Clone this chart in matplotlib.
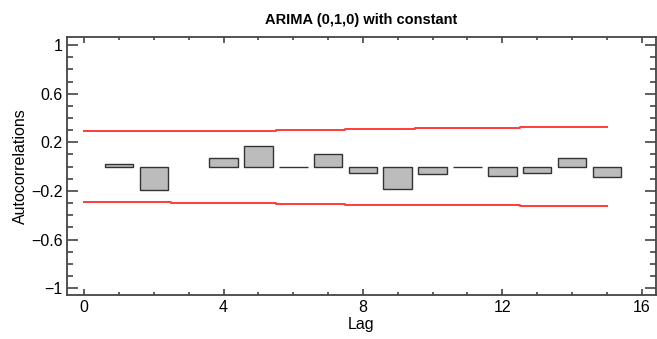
import matplotlib
matplotlib.use('Agg')
import matplotlib.pyplot as plt
import numpy as np
from matplotlib.ticker import MultipleLocator

plt.rcParams['font.family'] = ['Liberation Sans Narrow', 'Liberation Sans', 'DejaVu Sans']

# autocorrelations, lags 1..15
lags = np.arange(1, 16)
acf = [0.025, -0.19, 0.0, 0.071, 0.173, -0.006, 0.10, -0.052,
       -0.185, -0.06, -0.005, -0.077, -0.052, 0.068, -0.082]

# confidence limit, lags 0..15
band_lags = np.arange(0, 16)
band = [0.29, 0.29, 0.29, 0.297, 0.297, 0.297, 0.305, 0.305,
        0.312, 0.312, 0.32, 0.32, 0.32, 0.327, 0.327, 0.327]

fig = plt.figure(figsize=(6.57, 3.39), dpi=100)
ax = fig.add_axes([0.102, 0.130, 0.896, 0.761])

vals = np.array(acf)
keep = vals != 0
ax.bar(lags[keep], vals[keep], width=0.82, color='#bcbcbc', edgecolor='#333333', linewidth=1.0, zorder=2)

band = np.array(band)
ax.step(band_lags, band, where='mid', color='#ff3b3b', lw=1.4, zorder=3)
ax.step(band_lags, -band, where='mid', color='#ff3b3b', lw=1.4, zorder=3)

ax.set_xlim(-0.49, 16.4)
ax.set_ylim(-1.056, 1.067)

ax.xaxis.set_major_locator(MultipleLocator(4))
ax.xaxis.set_minor_locator(MultipleLocator(1))
ax.set_yticks([-1, -0.6, -0.2, 0.2, 0.6, 1])
ax.set_yticklabels(['\u22121', '\u22120.6', '\u22120.2', '0.2', '0.6', '1'])
ax.yaxis.set_minor_locator(MultipleLocator(0.1))

ax.tick_params(which='both', direction='in', top=True, right=True, colors='#444444',
               labelcolor='black', labelsize=11.5)
ax.tick_params(axis='x', which='major', length=4.5, width=1.2, pad=4)
ax.tick_params(axis='x', which='minor', length=2.5, width=1.2)
ax.tick_params(axis='y', which='major', length=8, width=1.2, pad=3)
ax.tick_params(axis='y', which='minor', length=4, width=1.2)

for s in ax.spines.values():
    s.set_color('#444444')
    s.set_linewidth(1.3)

ax.set_xlabel('Lag', fontsize=11.5, labelpad=1)
ax.set_ylabel('Autocorrelations', fontsize=11.5, labelpad=2)
ax.set_title('ARIMA (0,1,0) with constant', fontsize=10.5, fontweight='bold', pad=9)

fig.savefig('out.png', dpi=100)
